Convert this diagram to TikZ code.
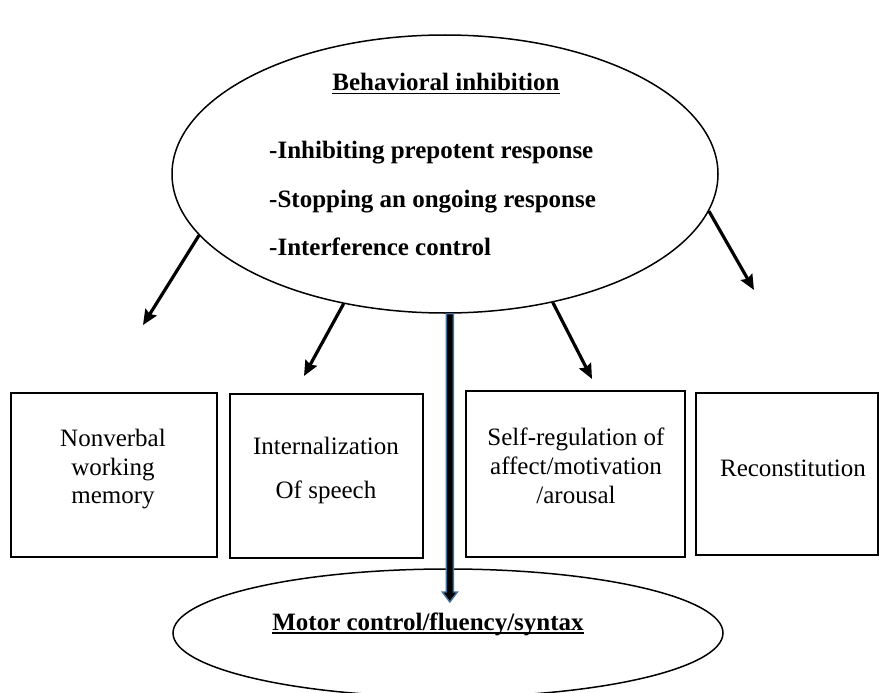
\documentclass[tikz,border=0pt]{standalone}
\usepackage{fontspec}
\setmainfont{Liberation Serif}
\usetikzlibrary{shapes.geometric,arrows.meta,calc}
\definecolor{arrowblue}{RGB}{65,113,156}
\newcommand\myul[1]{\setbox0\hbox{#1}\rlap{\rule[-3.5pt]{\wd0}{1.3pt}}\box0}
\begin{document}
\begin{tikzpicture}[x=1pt,y=-1pt,
  oval/.style={draw,ellipse,line width=1.5pt,inner sep=0pt},
  box/.style={draw,rectangle,line width=1.7pt,inner sep=0pt},
  txt/.style={anchor=base,inner sep=0pt,font=\fontsize{25}{30}\selectfont},
  btxt/.style={anchor=base,inner sep=0pt,font=\fontsize{25}{30}\selectfont\bfseries},
  arr/.style={line width=3.2pt,-{Stealth[length=15pt,width=13pt,inset=2pt]}}]
\useasboundingbox (0,0) rectangle (879,693);

% ellipses
\node[oval,minimum width=546pt,minimum height=278pt] (top) at (445,174) {};
\node[oval,minimum width=550pt,minimum height=128pt] (bot) at (448,633) {};

% boxes
\node[box,minimum width=206pt,minimum height=164pt] (b1) at (114,475) {};
\node[box,minimum width=193pt,minimum height=164pt] (b2) at (326.5,476) {};
\node[box,minimum width=219pt,minimum height=166pt] (b3) at (575.5,474) {};
\node[box,minimum width=182pt,minimum height=162pt] (b4) at (787,474) {};

% texts in top ellipse
\node[btxt] (title) at (446,91) {\myul{Behavioral inhibition}};
\node[btxt,anchor=base west] (i1) at (269,158) {-Inhibiting prepotent response};
\node[btxt,anchor=base west] (i2) at (269,207) {-Stopping an ongoing response};
\node[btxt,anchor=base west] (i3) at (269,255) {-Interference control};

% text in bottom ellipse
\node[btxt] (mtxt) at (428,630) {\myul{Motor control/fluency/syntax}};

% box texts
\node[txt] (t1a) at (113,446) {Nonverbal};
\node[txt] (t1b) at (113,475) {working};
\node[txt] (t1c) at (113,503) {memory};
\node[txt] (t2a) at (326,454) {Internalization};
\node[txt] (t2b) at (326,498) {Of speech};
\node[txt] (t3a) at (576,445) {Self-regulation of};
\node[txt] (t3b) at (576,474) {affect/motivation};
\node[txt] (t3c) at (576,503) {/arousal};
\node[txt] (t4a) at (793,476) {Reconstitution};

% arrow ends
\coordinate (e1) at (143,325);
\coordinate (e2) at (304,376);
\coordinate (e3) at (592,379);
\coordinate (e4) at (754,290);

\draw[arr] (top.194.4) -- (e1);
\draw[arr] (top.232.3) -- (e2);
\draw[arr] (top.310.9) -- (e3);
\draw[arr] (top.352.7) -- (e4);

% blue-outlined block arrow
\coordinate (bs) at (top.272.5);
\coordinate (be) at (bs |- 0,602);
\draw[arrowblue,line width=1.4pt,fill=black,line join=miter]
  ($(bs)+(-3.5,0)$) -- ($(be)+(-3.5,-10)$) -- ($(be)+(-7.5,-10)$) -- (be)
  -- ($(be)+(7.5,-10)$) -- ($(be)+(3.5,-10)$) -- ($(bs)+(3.5,0)$) -- cycle;
\end{tikzpicture}
\end{document}
